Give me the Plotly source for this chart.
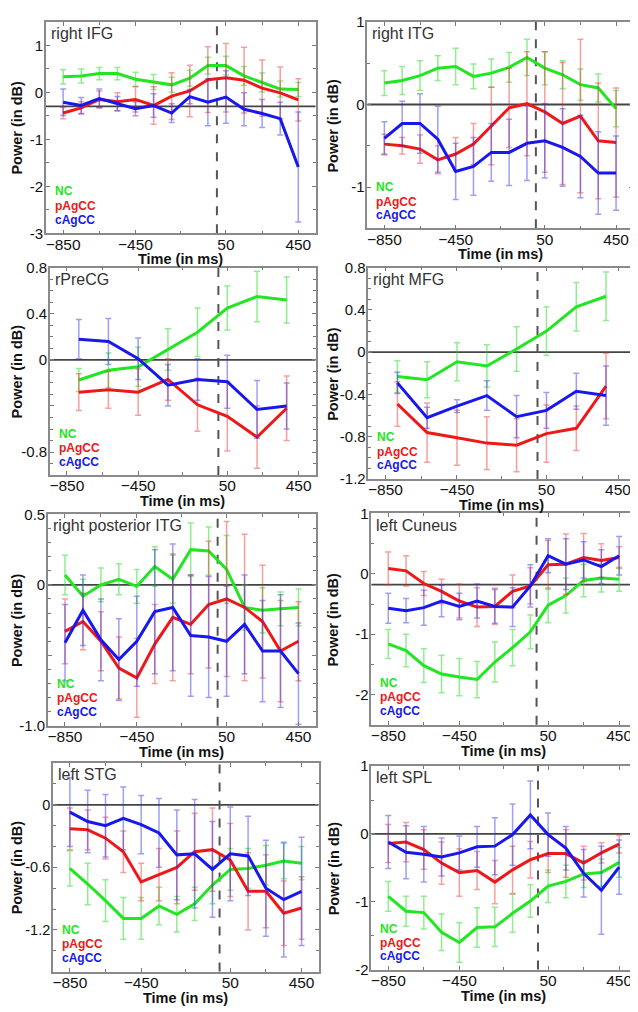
import plotly.graph_objects as go

# ---------------- data ----------------
T14 = [-850, -750, -650, -550, -450, -350, -250, -150, -50, 50, 150, 250, 350, 450]
T8 = [-783, -617, -450, -283, -117, 50, 217, 383]

titles = ["right IFG", "right ITG", "rPreCG", "right MFG",
          "right posterior ITG", "left Cuneus", "left STG", "left SPL"]
group_names = ["NC", "pAgCC", "cAgCC"]

ifg_nc = [0.33, 0.35, 0.40, 0.40, 0.28, 0.22, 0.16, 0.30, 0.57, 0.57, 0.35, 0.21, 0.07, 0.06]
ifg_nc_err = [0.15, 0.15, 0.13, 0.13, 0.15, 0.16, 0.16, 0.17, 0.18, 0.20, 0.20, 0.20, 0.17, 0.15]
ifg_p = [-0.44, -0.33, -0.15, -0.20, -0.15, -0.28, -0.08, 0.03, 0.27, 0.31, 0.26, 0.09, -0.01, -0.16]
ifg_p_err = [0.12, 0.13, 0.18, 0.19, 0.27, 0.40, 0.50, 0.55, 0.70, 0.73, 0.70, 0.60, 0.55, 0.45]
ifg_c = [-0.21, -0.28, -0.13, -0.24, -0.35, -0.28, -0.44, -0.09, -0.21, -0.10, -0.36, -0.45, -0.56, -1.59]
ifg_c_err = [0.28, 0.17, 0.20, 0.15, 0.15, 0.25, 0.20, 0.15, 0.50, 0.56, 0.35, 0.30, 0.35, 1.17]

itg_nc = [0.26, 0.29, 0.35, 0.44, 0.46, 0.34, 0.38, 0.45, 0.57, 0.44, 0.36, 0.24, 0.20, -0.05]
itg_nc_err = [0.15, 0.17, 0.18, 0.15, 0.22, 0.15, 0.17, 0.18, 0.22, 0.20, 0.17, 0.19, 0.17, 0.22]
itg_p = [-0.48, -0.50, -0.54, -0.67, -0.60, -0.48, -0.26, -0.04, 0.01, -0.09, -0.23, -0.14, -0.44, -0.46]
itg_p_err = [0.12, 0.10, 0.17, 0.17, 0.20, 0.25, 0.47, 0.48, 0.63, 0.73, 0.74, 0.93, 0.70, 0.66]
itg_c = [-0.41, -0.23, -0.23, -0.42, -0.81, -0.75, -0.58, -0.58, -0.47, -0.44, -0.52, -0.63, -0.83, -0.83]
itg_c_err = [0.20, 0.27, 0.36, 0.40, 0.34, 0.35, 0.35, 0.40, 0.45, 0.45, 0.47, 0.50, 0.50, 0.45]

precg_nc = [-0.175, -0.09, -0.06, 0.09, 0.24, 0.45, 0.55, 0.52]
precg_nc_err = [0.10, 0.15, 0.17, 0.18, 0.21, 0.19, 0.22, 0.20]
precg_p = [-0.28, -0.26, -0.28, -0.17, -0.39, -0.49, -0.67, -0.42]
precg_p_err = [0.16, 0.16, 0.20, 0.18, 0.23, 0.30, 0.27, 0.28]
precg_c = [0.18, 0.16, 0.01, -0.22, -0.17, -0.19, -0.43, -0.40]
precg_c_err = [0.17, 0.20, 0.18, 0.18, 0.18, 0.23, 0.25, 0.20]

mfg_nc = [-0.23, -0.26, -0.09, -0.13, 0.03, 0.20, 0.43, 0.53]
mfg_nc_err = [0.15, 0.17, 0.18, 0.20, 0.21, 0.23, 0.23, 0.23]
mfg_p = [-0.49, -0.76, -0.81, -0.86, -0.88, -0.77, -0.72, -0.32]
mfg_p_err = [0.21, 0.28, 0.26, 0.25, 0.25, 0.27, 0.21, 0.31]
mfg_c = [-0.29, -0.62, -0.51, -0.41, -0.61, -0.55, -0.37, -0.41]
mfg_c_err = [0.10, 0.10, 0.06, 0.14, 0.20, 0.17, 0.17, 0.28]

pitg_nc = [0.07, -0.08, 0.00, 0.04, -0.01, 0.13, 0.04, 0.25, 0.24, 0.11, -0.16, -0.18, -0.17, -0.16]
pitg_nc_err = [0.14, 0.12, 0.12, 0.11, 0.12, 0.14, 0.17, 0.19, 0.17, 0.24, 0.16, 0.16, 0.12, 0.13]
pitg_p = [-0.33, -0.26, -0.40, -0.59, -0.66, -0.42, -0.23, -0.28, -0.14, -0.10, -0.16, -0.26, -0.47, -0.40]
pitg_p_err = [0.23, 0.20, 0.21, 0.22, 0.28, 0.28, 0.45, 0.35, 0.45, 0.55, 0.52, 0.40, 0.36, 0.28]
pitg_c = [-0.41, -0.18, -0.39, -0.53, -0.40, -0.19, -0.16, -0.36, -0.37, -0.40, -0.28, -0.47, -0.47, -0.63]
pitg_c_err = [0.27, 0.25, 0.29, 0.29, 0.32, 0.44, 0.45, 0.43, 0.43, 0.39, 0.35, 0.36, 0.40, 0.36]

cun_nc = [-1.16, -1.27, -1.52, -1.66, -1.71, -1.75, -1.46, -1.22, -0.96, -0.52, -0.36, -0.11, -0.07, -0.09]
cun_nc_err = [0.24, 0.27, 0.28, 0.31, 0.31, 0.30, 0.33, 0.30, 0.28, 0.29, 0.29, 0.27, 0.23, 0.20]
cun_p = [0.09, 0.05, -0.16, -0.29, -0.45, -0.55, -0.54, -0.29, -0.20, 0.15, 0.16, 0.27, 0.22, 0.27]
cun_p_err = [0.27, 0.25, 0.20, 0.20, 0.28, 0.32, 0.30, 0.27, 0.30, 0.40, 0.50, 0.40, 0.28, 0.18]
cun_c = [-0.57, -0.61, -0.56, -0.45, -0.54, -0.45, -0.54, -0.55, -0.20, 0.30, 0.16, 0.23, 0.12, 0.30]
cun_c_err = [0.25, 0.20, 0.29, 0.26, 0.22, 0.28, 0.28, 0.32, 0.35, 0.28, 0.42, 0.30, 0.28, 0.32]

stg_nc = [-0.61, -0.76, -0.92, -1.09, -1.09, -0.97, -1.05, -0.95, -0.77, -0.62, -0.61, -0.58, -0.54, -0.56]
stg_nc_err = [0.17, 0.20, 0.20, 0.20, 0.20, 0.18, 0.17, 0.16, 0.18, 0.20, 0.19, 0.19, 0.17, 0.16]
stg_p = [-0.23, -0.24, -0.32, -0.45, -0.74, -0.67, -0.60, -0.45, -0.43, -0.53, -0.83, -0.83, -1.04, -0.99]
stg_p_err = [0.20, 0.19, 0.20, 0.20, 0.18, 0.25, 0.35, 0.37, 0.40, 0.35, 0.37, 0.35, 0.31, 0.30]
stg_c = [-0.07, -0.16, -0.20, -0.13, -0.19, -0.27, -0.48, -0.47, -0.62, -0.47, -0.49, -0.80, -0.91, -0.83]
stg_c_err = [0.33, 0.30, 0.30, 0.30, 0.28, 0.33, 0.43, 0.52, 0.46, 0.45, 0.38, 0.46, 0.55, 0.52]

spl_nc = [-0.92, -1.14, -1.16, -1.45, -1.60, -1.38, -1.37, -1.17, -0.99, -0.77, -0.70, -0.59, -0.57, -0.42]
spl_nc_err = [0.22, 0.22, 0.24, 0.27, 0.29, 0.29, 0.29, 0.28, 0.24, 0.24, 0.24, 0.20, 0.20, 0.22]
spl_p = [-0.14, -0.12, -0.23, -0.43, -0.57, -0.54, -0.71, -0.53, -0.38, -0.29, -0.29, -0.43, -0.28, -0.15]
spl_p_err = [0.28, 0.29, 0.29, 0.31, 0.35, 0.28, 0.32, 0.35, 0.27, 0.28, 0.35, 0.25, 0.15, 0.13]
spl_c = [-0.12, -0.27, -0.30, -0.34, -0.28, -0.19, -0.18, -0.01, 0.28, -0.01, -0.21, -0.58, -0.83, -0.49]
spl_c_err = [0.39, 0.39, 0.41, 0.28, 0.25, 0.30, 0.42, 0.45, 0.50, 0.32, 0.32, 0.35, 0.65, 0.40]

x_ticks = [-850, -450, 50, 450]
y_ranges = [[-3, 1.5], [-1.5, 1.0], [-1.0, 0.8], [-1.2, 0.8],
             [-1.0, 0.5], [-2.5, 1.0], [-1.6, 0.4], [-2.0, 1.0]]
y_tickvals = [[-3, -2, -1, 0, 1], [-1, 0, 1], [-0.8, -0.4, 0, 0.4, 0.8], [-1.2, -0.8, -0.4, 0, 0.4, 0.8],
              [-1.0, -0.5, 0, 0.5], [-2, -1, 0, 1], [-1.2, -0.6, 0], [-2, -1, 0, 1]]
y_ticktext = [["-3", "-2", "-1", "0", "1"], ["-1", "0", "1"], ["-0.8", "", "0", "0.4", "0.8"],
              ["-1.2", "-0.8", "-0.4", "0", "0.4", "0.8"], ["-1.0", "", "0", "0.5"],
              ["-2", "-1", "0", "1"], ["-1.2", "-0.6", "0"], ["-2", "-1", "0", "1"]]
y_minor = [0.5, 0.5, None, None, None, 0.5, 0.2, 0.5]
hline_y = [-0.3, 0, 0, 0, 0, -0.18, 0, 0]
onset_x = [0, 0, 0, 0, 0, -15, -10, -7]

panels = [
    (T14, ifg_nc, ifg_nc_err, ifg_p, ifg_p_err, ifg_c, ifg_c_err),
    (T14, itg_nc, itg_nc_err, itg_p, itg_p_err, itg_c, itg_c_err),
    (T8, precg_nc, precg_nc_err, precg_p, precg_p_err, precg_c, precg_c_err),
    (T8, mfg_nc, mfg_nc_err, mfg_p, mfg_p_err, mfg_c, mfg_c_err),
    (T14, pitg_nc, pitg_nc_err, pitg_p, pitg_p_err, pitg_c, pitg_c_err),
    (T14, cun_nc, cun_nc_err, cun_p, cun_p_err, cun_c, cun_c_err),
    (T14, stg_nc, stg_nc_err, stg_p, stg_p_err, stg_c, stg_c_err),
    (T14, spl_nc, spl_nc_err, spl_p, spl_p_err, spl_c, spl_c_err),
]

# ---------------- style ----------------
# the page body has an 8px default margin: the figure is 8px smaller, boxes given in page px
PAGE_OFF = 8
W, H = 638 - PAGE_OFF, 1012 - PAGE_OFF
line_colors = ["rgb(34,230,34)", "rgb(238,24,24)", "rgb(24,24,238)"]
err_colors = ["rgba(34,220,34,0.5)", "rgba(238,40,40,0.45)", "rgba(40,40,238,0.45)"]
# panel boxes (left, right, top, bottom) in page pixels
boxes = [(45, 315, 13, 228), (367, 633, 13, 223),
         (49, 315, 263, 474), (368, 635, 263, 478),
         (47, 315, 514, 729), (371, 636, 513, 728),
         (52, 318, 767, 979), (371, 636, 770, 977)]
ytitle_px = [16, 333, 16, 333, 16, 333, 16, 333]
ytick_size = [15, 15, 15, 15, 15, 15, 14.5, 15]
FONT = "Liberation Sans, Arial, sans-serif"

fig = go.Figure()
layout = dict(
    width=W, height=H, margin=dict(l=0, r=0, t=0, b=0),
    paper_bgcolor="white", plot_bgcolor="white", showlegend=False,
    font=dict(family=FONT, color="#222"),
)
shapes, annotations = [], []

for i, (tx, nc, nce, p, pe, c, ce) in enumerate(panels):
    k = "" if i == 0 else str(i + 1)
    xa, ya = "x" + k, "y" + k
    bl, br, bt, bb = [v - PAGE_OFF for v in boxes[i]]
    xdom = [bl / W, br / W]
    ydom = [1 - bb / H, 1 - bt / H]

    for vals, errs, lc, ec in zip([nc, p, c], [nce, pe, ce], line_colors, err_colors):
        fig.add_trace(go.Scatter(
            x=tx, y=vals, xaxis=xa, yaxis=ya, mode="lines",
            line=dict(color=lc, width=3),
            error_y=dict(type="data", array=errs, visible=True, color=ec, thickness=1.5, width=3),
        ))

    xaxis = dict(
        domain=xdom, anchor=ya, range=[-945, 545], tickvals=x_ticks,
        ticks="inside", ticklen=4, tickcolor="#777", mirror="ticks",
        showline=True, linecolor="#8a8a8a", linewidth=1.5, showgrid=False, zeroline=False,
        tickfont=dict(size=15.5, color="#111"), ticklabelstandoff=-4,
        minor=dict(tickvals=[-650, -200, 250], ticks="inside", ticklen=3, tickcolor="#777"),
    )
    ymin = dict(ticks="inside", ticklen=3, tickcolor="#777")
    if y_minor[i] is not None:
        ymin["dtick"] = y_minor[i]
        ymin["tick0"] = 0
    yaxis = dict(
        domain=ydom, anchor=xa, range=y_ranges[i], tickvals=y_tickvals[i], ticktext=y_ticktext[i],
        ticks="inside", ticklen=4, tickcolor="#777", mirror="ticks",
        showline=True, linecolor="#8a8a8a", linewidth=1.5, showgrid=False, zeroline=False,
        tickfont=dict(size=ytick_size[i], color="#111"), minor=ymin, ticklabelstandoff=-2,
    )
    layout["xaxis" + k] = xaxis
    layout["yaxis" + k] = yaxis

    shapes.append(dict(type="line", xref=xa + " domain", yref=ya, x0=0, x1=1,
                       y0=hline_y[i], y1=hline_y[i], line=dict(color="#444", width=1.8), layer="below"))
    shapes.append(dict(type="line", xref=xa, yref=ya + " domain", x0=onset_x[i], x1=onset_x[i],
                       y0=0, y1=1, line=dict(color="#555", width=2, dash="dash"), layer="below"))

    # axis titles
    annotations.append(dict(text="<b>Time (in ms)</b>", xref=xa + " domain", yref=ya + " domain",
                            x=0.5, y=0, yshift=-16, xanchor="center", yanchor="top", showarrow=False,
                            font=dict(size=14.5, color="#111", family=FONT)))
    annotations.append(dict(text="<b>Power (in dB)</b>", xref="paper", yref=ya + " domain",
                            x=(ytitle_px[i] - PAGE_OFF) / W, y=0.5, xanchor="center", yanchor="middle",
                            textangle=-90, showarrow=False, font=dict(size=14.5, color="#111", family=FONT)))

    annotations.append(dict(text=titles[i], xref=xa + " domain", yref=ya + " domain",
                            x=0.01, y=0.995, xanchor="left", yanchor="top", showarrow=False,
                            font=dict(size=16, color="#333", family=FONT)))
    for name, lc, yy in zip(group_names, line_colors, [0.2, 0.13, 0.065]):
        annotations.append(dict(text="<b>%s</b>" % name, xref=xa + " domain", yref=ya + " domain",
                                x=0.025, y=yy, xanchor="left", yanchor="middle", showarrow=False,
                                font=dict(size=12, color=lc, family=FONT)))

layout["shapes"] = shapes
layout["annotations"] = annotations
fig.update_layout(**layout)
fig.write_html("out.html")
